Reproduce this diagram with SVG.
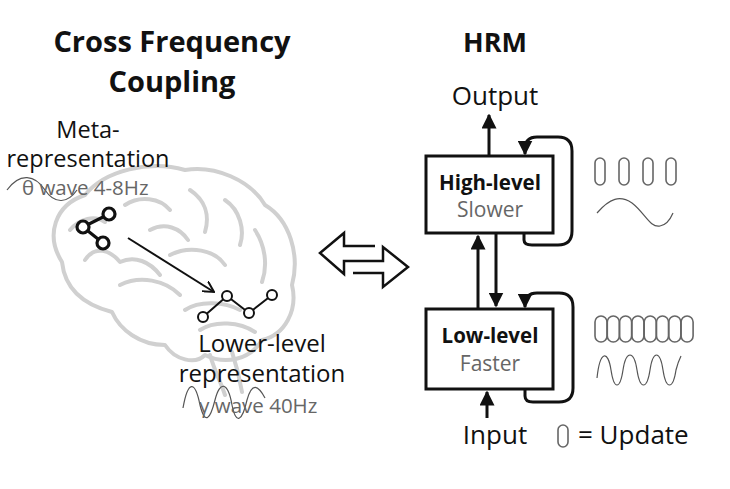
<svg xmlns="http://www.w3.org/2000/svg" width="730" height="489" viewBox="0 0 730 489">
<defs>
<style>
.t{font-family:"Open Sans","Liberation Sans",sans-serif;fill:#111}
.b{font-weight:bold}
.g{fill:#666}
.ln{fill:none;stroke:#111;stroke-width:3}
.br{fill:none;stroke:#d0d0d0;stroke-width:4;stroke-linecap:round;stroke-linejoin:round}
.w{fill:none;stroke:#555;stroke-width:1.2}
.p{fill:none;stroke:#666;stroke-width:1.6}
</style>
<marker id="ah" viewBox="0 0 10 10" refX="9" refY="5" markerWidth="5" markerHeight="5" orient="auto"><path d="M0,0 L10,5 L0,10 z" fill="#111"/></marker>
<marker id="oh" viewBox="0 0 12 12" refX="11" refY="6" markerWidth="12" markerHeight="12" markerUnits="userSpaceOnUse" orient="auto"><path d="M0,0 L11,6 L0,12" fill="none" stroke="#111" stroke-width="2"/></marker>
</defs>
<rect width="730" height="489" fill="#fff"/>
<g id="brain">
<path class="br" d="M62,262 C45,235 55,205 85,195 C105,170 150,160 185,170 C215,165 250,180 265,205 C290,220 300,255 292,285 C298,310 285,335 262,340 C250,360 225,365 205,355 C195,365 175,360 165,345 C140,345 120,330 112,312 C85,305 65,290 62,262 Z"/>
<path class="br" d="M85,260 C95,245 110,250 120,262 C135,255 150,262 160,275 M125,205 C140,195 160,198 170,210 M190,190 C205,200 210,215 205,232 M225,200 C240,210 245,230 240,245 M255,230 C265,245 268,265 262,282 M120,285 C140,275 165,280 180,295 M170,255 C190,245 215,250 225,265 M150,230 C165,222 180,228 188,240 M200,330 C215,320 240,322 255,332 M185,310 C200,300 225,302 240,310 M210,355 C215,372 220,380 225,395 M232,352 C238,370 240,380 242,392 M70,230 C80,218 95,215 105,222"/>
</g>
<g id="titles">
<text class="t b" x="172" y="52" font-size="29" text-anchor="middle">Cross Frequency</text>
<text class="t b" x="172" y="92" font-size="29" text-anchor="middle">Coupling</text>
<text class="t b" x="495" y="52" font-size="27" text-anchor="middle">HRM</text>
</g>
<g id="meta">
<text class="t" x="88" y="138" font-size="23.5" text-anchor="middle">Meta-</text>
<text class="t" x="88" y="167" font-size="23.5" text-anchor="middle">representation</text>
<path class="w" d="M7,190 C20,172 35,175 45,190 C55,205 68,203 77,190"/>
<text class="t g" x="22" y="195" font-size="20.5">θ wave 4-8Hz</text>
<g fill="#fff" stroke="#111" stroke-width="3.2">
<line x1="83" y1="227" x2="109" y2="214"/><line x1="83" y1="227" x2="103" y2="243"/>
<circle cx="83" cy="227" r="6"/><circle cx="109" cy="214" r="6"/><circle cx="103" cy="243" r="6"/>
</g>
</g>
<g id="lower">
<g fill="#fff" stroke="#111" stroke-width="2">
<polyline points="203,317 227,296 249,313 272,295" fill="none"/>
<circle cx="203" cy="317" r="5"/><circle cx="227" cy="296" r="5"/><circle cx="249" cy="313" r="5"/><circle cx="272" cy="295" r="5"/>
</g>
<text class="t" x="262" y="352" font-size="24" text-anchor="middle">Lower-level</text>
<text class="t" x="262" y="382" font-size="24" text-anchor="middle">representation</text>
<path class="w" d="M183,408 C188,380 195,380 200,405 C205,425 210,420 215,400 C220,380 228,382 232,405 C236,425 242,422 247,400 C252,382 258,385 265,398"/>
<text class="t g" x="199" y="413" font-size="20.5">γ wave 40Hz</text>
</g>
<g id="high">
<rect x="426" y="156" width="127" height="77" fill="#fff" stroke="#111" stroke-width="3"/>
<text class="t b" x="490" y="190" font-size="20.5" text-anchor="middle">High-level</text>
<text class="t g" x="490" y="217" font-size="21" text-anchor="middle">Slower</text>
</g>
<g id="low">
<rect x="426" y="309" width="127" height="80" fill="#fff" stroke="#111" stroke-width="3"/>
<text class="t b" x="490" y="343" font-size="20.5" text-anchor="middle">Low-level</text>
<text class="t g" x="490" y="371" font-size="21" text-anchor="middle">Faster</text>
</g>
<g id="labels">
<text class="t" x="495" y="105" font-size="26" text-anchor="middle">Output</text>
<text class="t" x="495" y="444" font-size="26" text-anchor="middle">Input</text>
<rect x="558" y="425" width="10" height="22" rx="5" class="p"/>
<text class="t" x="578" y="444" font-size="26">= Update</text>
</g>
<g id="waves">
<rect x="595" y="158" width="10" height="27" rx="5" class="p"/>
<rect x="619" y="158" width="10" height="27" rx="5" class="p"/>
<rect x="643" y="158" width="10" height="27" rx="5" class="p"/>
<rect x="666" y="158" width="10" height="27" rx="5" class="p"/>
<path class="w" d="M597,213 C610,198 620,195 632,203 C645,213 650,228 660,226 C666,225 670,220 673,213"/>
<g class="p">
<rect x="595" y="316" width="12" height="26" rx="6"/><rect x="607.3" y="316" width="12" height="26" rx="6"/>
<rect x="619.6" y="316" width="12" height="26" rx="6"/><rect x="631.9" y="316" width="12" height="26" rx="6"/>
<rect x="644.2" y="316" width="12" height="26" rx="6"/><rect x="656.5" y="316" width="12" height="26" rx="6"/>
<rect x="668.8" y="316" width="12" height="26" rx="6"/><rect x="681.1" y="316" width="12" height="26" rx="6"/>
</g>
<path class="w" d="M597,378 C600,350 608,350 611,370 C614,390 620,390 623,370 C626,350 634,350 637,370 C640,390 647,390 650,370 C653,350 660,350 663,370 C666,390 673,390 676,370 C678,362 680,358 681,356"/>
</g>
<g id="connectors">
<line class="ln" x1="489" y1="156" x2="489" y2="115" marker-end="url(#ah)"/>
<path class="ln" d="M524,233 V240 Q524,245 532,245 H558 Q572,245 572,231 V151 Q572,137 558,137 H537 Q525,137 525,149 V154" marker-end="url(#ah)"/>
<path class="ln" d="M525,389 V396 Q525,402 533,402 H559 Q573,402 573,388 V307 Q573,293 559,293 H537 Q525,293 525,305 V307" marker-end="url(#ah)"/>
<line class="ln" x1="478" y1="309" x2="478" y2="236" marker-end="url(#ah)"/>
<line class="ln" x1="496" y1="233" x2="496" y2="306" marker-end="url(#ah)"/>
<line class="ln" x1="487" y1="418" x2="487" y2="392" marker-end="url(#ah)"/>
<line x1="128" y1="238" x2="214" y2="292" stroke="#111" stroke-width="2" marker-end="url(#oh)"/>
<path d="M375,246 H344 V233 L320,253 L344,274 V261 H383 V247 L408,267 L383,287 V273 H353" fill="none" stroke="#111" stroke-width="2.5"/>
</g>
</svg>
